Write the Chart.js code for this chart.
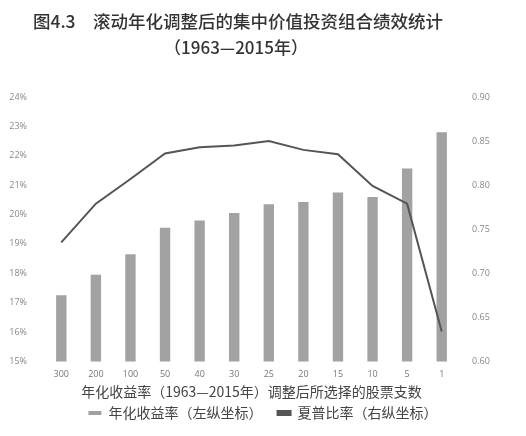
<!DOCTYPE html>
<html>
<head>
<meta charset="utf-8">
<script src="https://cdn.jsdelivr.net/npm/chart.js@4"></script>
<style>
html,body{margin:0;padding:0;background:#fff;}
#wrap{width:526px;height:436px;}
</style>
</head>
<body>
<div id="wrap"><canvas id="c" width="526" height="436"></canvas></div>
<script>
const categories = ['300','200','100','50','40','30','25','20','15','10','5','1'];
const annualReturn = [17.25, 17.95, 18.65, 19.55, 19.8, 20.05, 20.35, 20.43, 20.75, 20.6, 21.57, 22.8];
const sharpeRatio = [0.735, 0.779, 0.807, 0.836, 0.843, 0.845, 0.850, 0.840, 0.835, 0.799, 0.779, 0.634];
const titleLines = ['图4.3　滚动年化调整后的集中价值投资组合绩效统计', '（1963—2015年）'];
const xTitle = '年化收益率（1963—2015年）调整后所选择的股票支数';
const seriesNames = ['年化收益率（左纵坐标）', '夏普比率（右纵坐标）'];

const CJK = '"Noto Sans CJK SC", "Noto Sans", sans-serif';

const titlePlugin = {
  id: 'twoLineTitle',
  afterDraw(chart) {
    const ctx = chart.ctx;
    ctx.save();
    ctx.fillStyle = '#333333';
    ctx.font = '500 17.5px ' + CJK;
    ctx.textAlign = 'center';
    ctx.textBaseline = 'middle';
    ctx.fillText(titleLines[0], 238, 21);
    ctx.font = '500 17px ' + CJK;
    ctx.fillText(titleLines[1], 236, 48);
    ctx.restore();
  }
};

new Chart(document.getElementById('c'), {
  data: {
    labels: categories,
    datasets: [
      {
        type: 'line',
        label: seriesNames[1],
        data: sharpeRatio,
        yAxisID: 'y2',
        borderColor: '#555555',
        backgroundColor: '#555555',
        borderWidth: 2,
        pointRadius: 0,
        tension: 0,
        order: 0
      },
      {
        type: 'bar',
        label: seriesNames[0],
        data: annualReturn,
        yAxisID: 'y',
        backgroundColor: '#a2a2a2',
        barPercentage: 0.3,
        categoryPercentage: 1.0,
        order: 1
      }
    ]
  },
  options: {
    responsive: false,
    animation: false,
    devicePixelRatio: 1,
    layout: { padding: { top: 97, left: 0, right: 0, bottom: 6 } },
    plugins: {
      legend: {
        position: 'bottom',
        reverse: true,
        labels: {
          color: '#444',
          font: { family: CJK, size: 14 },
          boxWidth: 13,
          boxHeight: 4,
          padding: 5,
          generateLabels(chart) {
            const items = Chart.defaults.plugins.legend.labels.generateLabels(chart);
            items.forEach(it => {
              if (chart.data.datasets[it.datasetIndex].type === 'bar') it.text = it.text + '　 ';
            });
            return items;
          }
        },
        onClick: null
      },
      tooltip: { enabled: false }
    },
    scales: {
      x: {
        grid: { display: false, drawTicks: false, tickLength: 0 },
        border: { display: false },
        ticks: { color: '#777', font: { family: 'Open Sans, sans-serif', size: 9 }, padding: 8 },
        title: { display: true, text: xTitle, color: '#444', font: { family: CJK, size: 14 }, padding: { top: -5, bottom: 1 } }
      },
      y: {
        position: 'left',
        min: 15, max: 24,
        grid: { display: false },
        border: { display: false },
        ticks: { stepSize: 1, color: '#888', font: { family: 'Open Sans, sans-serif', size: 9 }, padding: 9,
          callback: v => v + '%' },
        afterFit(s) { s.width = 44; }
      },
      y2: {
        position: 'right',
        min: 0.6, max: 0.9,
        grid: { display: false },
        border: { display: false },
        ticks: { stepSize: 0.05, color: '#888', font: { family: 'Open Sans, sans-serif', size: 9 }, padding: 5,
          callback: v => v.toFixed(2) },
        afterFit(s) { s.width = 67; }
      }
    }
  },
  plugins: [titlePlugin]
});
</script>
</body>
</html>
